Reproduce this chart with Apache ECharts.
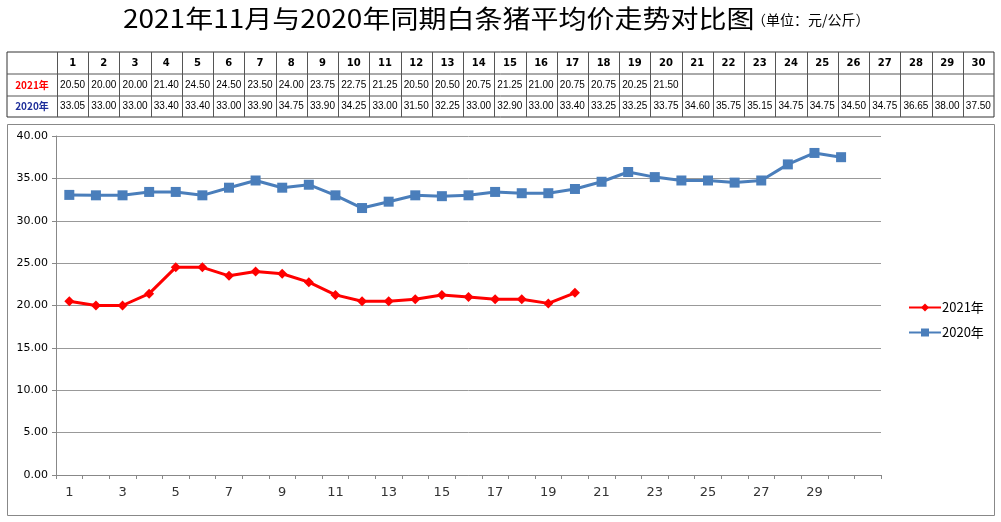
<!DOCTYPE html>
<html><head><meta charset="utf-8">
<script src="https://cdn.jsdelivr.net/npm/echarts@6/dist/echarts.min.js"></script>
<style>html,body{margin:0;padding:0;background:#fff}#c{width:1001px;height:522px}</style>
</head><body><div id="c"></div>
<script>
const days = ['1','2','3','4','5','6','7','8','9','10','11','12','13','14','15','16','17','18','19','20','21','22','23','24','25','26','27','28','29','30',''];
const series2021 = [20.50,20.00,20.00,21.40,24.50,24.50,23.50,24.00,23.75,22.75,21.25,20.50,20.50,20.75,21.25,21.00,20.75,20.75,20.25,21.50];
const series2020 = [33.05,33.00,33.00,33.40,33.40,33.00,33.90,34.75,33.90,34.25,33.00,31.50,32.25,33.00,32.90,33.00,33.40,33.25,33.25,33.75,34.60,35.75,35.15,34.75,34.75,34.50,34.75,36.65,38.00,37.50];
const seriesNames = ['2021年','2020年'];
const titleMain = '2021年11月与2020年同期白条猪平均价走势对比图';
const titleUnit = '（单位：元/公斤）';
const yTicks = {min:0, max:40, interval:5};

const CJK = '"Noto Sans CJK SC", "Noto Sans", sans-serif';
const graphics = [];
// title
graphics.push({type:'text', x:123, y:18, scaleX:1.12, style:{text:titleMain, font:'25px ' + CJK, fill:'#000', align:'left', verticalAlign:'middle'}});
graphics.push({type:'text', x:752, y:20, style:{text:titleUnit, font:'14px ' + CJK, fill:'#000', align:'left', verticalAlign:'middle'}});
// table layout
const tX0 = 7, tX1 = 57, tX2 = 994, rows = [52, 74, 96, 117];
const nCols = 30, cw = (tX2 - tX1) / nCols;
graphics.push({type:'rect', shape:{x:tX0, y:rows[0], width:tX2-tX0, height:rows[3]-rows[0]}, style:{fill:'#fff', stroke:'#333', lineWidth:1}});
for (let r = 1; r < 3; r++) graphics.push({type:'line', shape:{x1:tX0, y1:rows[r], x2:tX2, y2:rows[r]}, style:{stroke:'#555', lineWidth:1}});
for (let c = 0; c < nCols; c++) {
  const x = Math.round(tX1 + c*cw) + 0.5;
  graphics.push({type:'line', shape:{x1:x, y1:rows[0], x2:x, y2:rows[3]}, style:{stroke:'#555', lineWidth:1}});
}
const cellText = (txt, col, row, style) => {
  const cx = col < 0 ? (tX0 + tX1)/2 : tX1 + (col + 0.5)*cw;
  const cy = (rows[row] + rows[row+1]) / 2;
  graphics.push({type:'text', x:cx, y:cy, style:Object.assign({text:txt, align:'center', verticalAlign:'middle', fill:'#000', font:'10px "Liberation Sans", sans-serif'}, style||{})});
};
for (let c = 0; c < nCols; c++) cellText(days[c], c, 0, {font:'bold 10px "DejaVu Sans", sans-serif'});
cellText(seriesNames[0], -1, 1, {fill:'#ff0000', font:'bold 10px ' + CJK});
cellText(seriesNames[1], -1, 2, {fill:'#1f2f9a', font:'bold 10px ' + CJK});
series2021.forEach((v,i) => cellText(v.toFixed(2), i, 1));
series2020.forEach((v,i) => cellText(v.toFixed(2), i, 2));
// chart border
graphics.push({type:'rect', shape:{x:7.5, y:124.5, width:987, height:391}, style:{fill:'none', stroke:'#888', lineWidth:1}, z:-1});

const chart = echarts.init(document.getElementById('c'));
chart.setOption({
  backgroundColor:'#fff',
  animation:false,
  graphic:graphics,
  legend:{
    orient:'vertical', left:903, top:296, itemGap:12, itemWidth:32, itemHeight:10,
    data:seriesNames,
    textStyle:{fontFamily:CJK, fontSize:13, color:'#000', padding:[0,0,0,-4]}
  },
  grid:{left:56, right:120, top:136, bottom:47},
  xAxis:{
    type:'category', data:days, boundaryGap:true,
    axisLine:{lineStyle:{color:'#888'}},
    axisTick:{show:true, alignWithLabel:false, interval:0, length:4, lineStyle:{color:'#888'}},
    axisLabel:{interval:1, color:'#333', fontSize:13, fontFamily:'"DejaVu Sans", sans-serif', margin:11}
  },
  yAxis:{
    type:'value', min:yTicks.min, max:yTicks.max, interval:yTicks.interval,
    axisLine:{show:true, lineStyle:{color:'#888'}},
    axisTick:{show:true, length:4, lineStyle:{color:'#888'}},
    splitLine:{lineStyle:{color:'#999'}},
    axisLabel:{formatter:v => v.toFixed(2), color:'#000', fontSize:11, fontFamily:'"DejaVu Sans", sans-serif', margin:8}
  },
  series:[
    {name:seriesNames[0], type:'line', data:series2021, color:'#ff0000',
     symbol:'diamond', symbolSize:10, lineStyle:{width:3}, itemStyle:{color:'#ff0000'}},
    {name:seriesNames[1], type:'line', data:series2020, color:'#4a7ebb',
     symbol:'rect', symbolSize:10, lineStyle:{width:3}, itemStyle:{color:'#4a7ebb'}}
  ]
});
</script></body></html>
